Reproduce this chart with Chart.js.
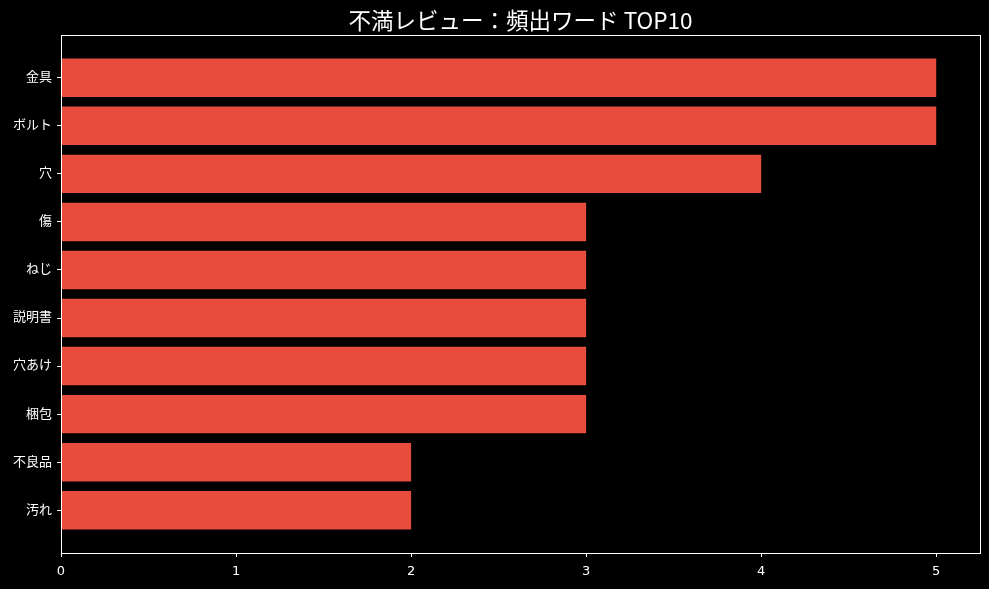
<!DOCTYPE html>
<html><head><meta charset="utf-8">
<script src="https://cdn.jsdelivr.net/npm/chart.js@4"></script>
<style>html,body{margin:0;padding:0;background:#000;}canvas{display:block;}</style>
</head><body>
<canvas id="c" width="989" height="589"></canvas>
<script>
const title = '不満レビュー：頻出ワード TOP10';
const categories = ['金具','ボルト','穴','傷','ねじ','説明書','穴あけ','梱包','不良品','汚れ'];
const counts = [5,5,4,3,3,3,3,3,2,2];
const xTicks = [0,1,2,3,4,5];

const tickFont = {family:'"DejaVu Sans","Noto Sans CJK JP",sans-serif', size:13};
const points = categories.map((c,i)=>({x:counts[i], y:i}));

const framePlugin = {
  id:'frame',
  beforeDraw(chart){
    const ctx=chart.ctx; ctx.save(); ctx.fillStyle='#000'; ctx.fillRect(0,0,chart.width,chart.height); ctx.restore();
  },
  afterDraw(chart){
    const a=chart.chartArea, ctx=chart.ctx;
    ctx.save();
    ctx.strokeStyle='#fff'; ctx.lineWidth=1;
    ctx.strokeRect(Math.round(a.left)+0.5, Math.round(a.top)+0.5, Math.round(a.right-a.left), Math.round(a.bottom-a.top));
    ctx.fillStyle='#fff';
    ctx.font='22.5px "Noto Sans CJK JP", sans-serif';
    ctx.textAlign='center'; ctx.textBaseline='middle';
    ctx.fillText(title,(a.left+a.right)/2,20);
    ctx.restore();
  }
};

new Chart(document.getElementById('c'),{
  type:'bar',
  data:{datasets:[{data:points, backgroundColor:'#e74c3c', borderWidth:0, barPercentage:0.8, categoryPercentage:1}]},
  options:{
    indexAxis:'y', responsive:false, animation:false,
    layout:{padding:{top:35,right:9,left:0,bottom:0}},
    plugins:{legend:{display:false},tooltip:{enabled:false}},
    scales:{
      x:{type:'linear', min:0, max:5.25, offset:false,
        ticks:{stepSize:1, color:'#fff', font:tickFont, padding:7},
        afterBuildTicks(s){ s.ticks = xTicks.map(v=>({value:v})); },
        afterFit(s){ s.height=36; },
        grid:{display:true, offset:false, drawOnChartArea:false, drawTicks:true, tickLength:4, color:'#fff'},
        border:{display:true,color:'#fff'}
      },
      y:{type:'linear', min:-0.89, max:9.89, reverse:true, offset:false,
        afterBuildTicks(s){ s.ticks = categories.map((c,i)=>({value:i})); },
        ticks:{color:'#fff', font:tickFont, padding:5, callback:(v)=>categories[v]},
        afterFit(s){ s.width=61; },
        grid:{display:true, offset:false, drawOnChartArea:false, drawTicks:true, tickLength:4, color:'#fff'},
        border:{display:true,color:'#fff'}
      }
    }
  },
  plugins:[framePlugin]
});
</script>
</body></html>
